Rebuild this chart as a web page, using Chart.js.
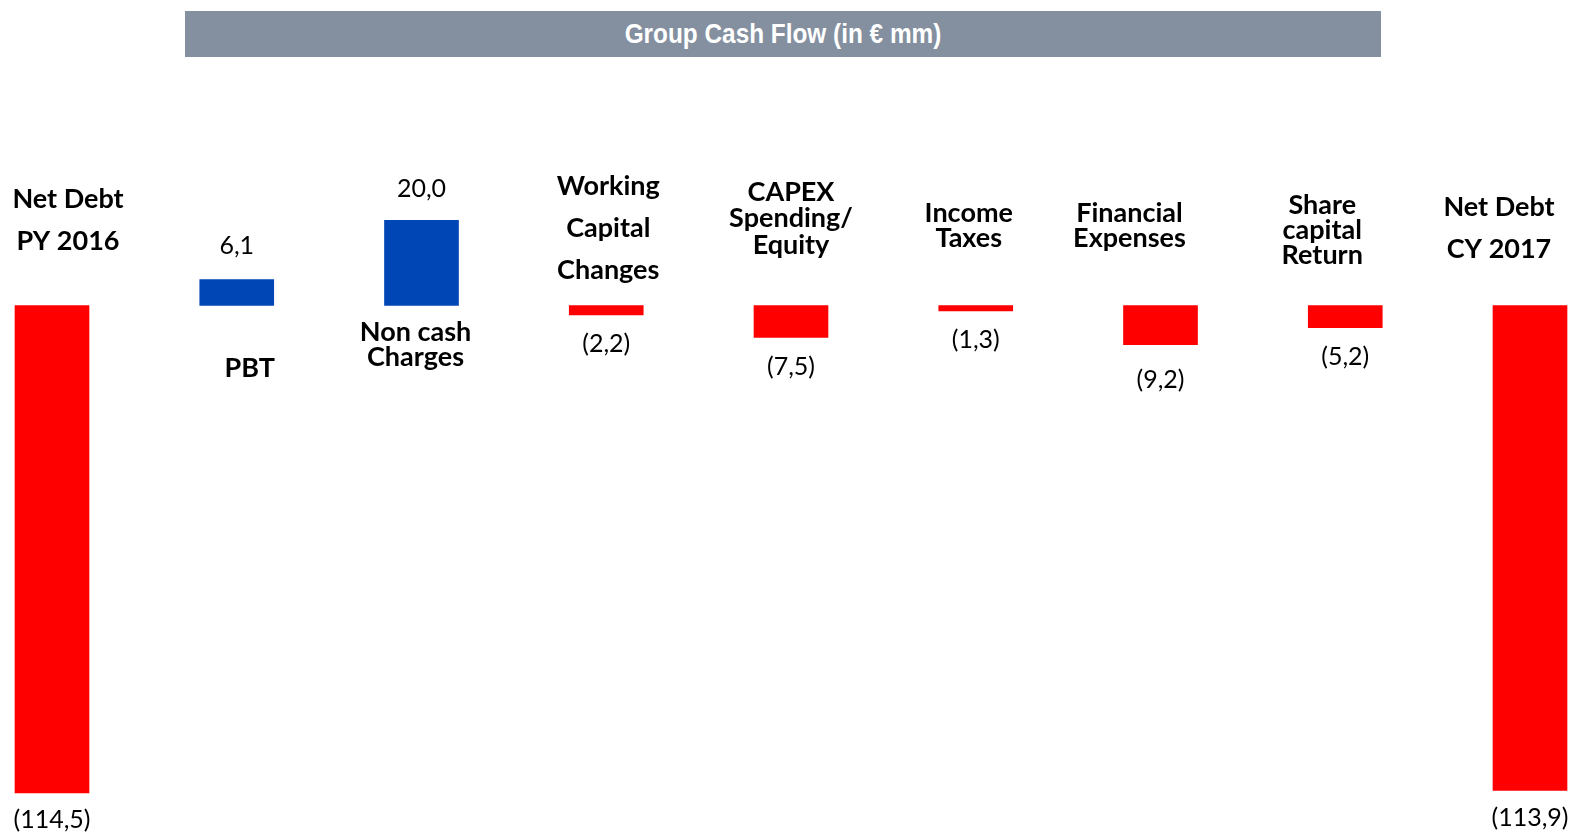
<!DOCTYPE html>
<html>
<head>
<meta charset="utf-8">
<script src="https://cdn.jsdelivr.net/npm/chart.js@4.4.1/dist/chart.umd.min.js"></script>
<style>
  html, body { margin: 0; padding: 0; background: #fff; }
  #wrap { position: relative; width: 1571px; height: 836px; }
  #title {
    position: absolute; left: 185px; top: 11px; width: 1196px; height: 46px;
    background: #848f9f; color: #fff; text-align: center;
    font: bold 28px "Liberation Sans", Arial, sans-serif;
    line-height: 46px; z-index: 2;
  }
  #title span { display: inline-block; transform: scaleX(0.87); }
  canvas { position: absolute; left: 0; top: 0; }
</style>
</head>
<body>
<div id="wrap">
  <div id="title"><span>Group Cash Flow (in € mm)</span></div>
  <canvas id="cashChart" width="1571" height="836"></canvas>
</div>
<script>
// ----------------------------
// - Data -
// ----------------------------
const categories = [
  ["Net Debt", "PY 2016"],
  ["PBT"],
  ["Non cash", "Charges"],
  ["Working", "Capital", "Changes"],
  ["CAPEX", "Spending/", "Equity"],
  ["Income", "Taxes"],
  ["Financial", "Expenses"],
  ["Share", "capital", "Return"],
  ["Net Debt", "CY 2017"]
];
const values = [-114.5, 6.1, 20.0, -2.2, -7.5, -1.3, -9.2, -5.2, -113.9];

// ----------------------------
// - Layout of the text labels -
// ----------------------------
// category text: x shift from bar centre, y of first line, gap between lines
const catLayout = [
  { dx: 16, y: 199, gap: 42 },
  { dx: 13, y: 368, gap: 26 },
  { dx: -6, y: 332, gap: 25 },
  { dx: 2, y: 186, gap: 42 },
  { dx: 0, y: 192, gap: 26.5 },
  { dx: -7, y: 213, gap: 25 },
  { dx: -31, y: 213, gap: 25 },
  { dx: -23, y: 205, gap: 25 },
  { dx: -31, y: 207, gap: 42 }
];
// value text: distance from the bar end
const valueGap = [27, 34, 31, 29, 30, 29, 35, 29, 27];

const barColors = values.map(function (v) {
  return v >= 0 ? "#0046b4" : "#ff0000";
});

function fmt(v) {
  var s = Math.abs(v).toFixed(1).replace(".", ",");
  return v < 0 ? "(" + s + ")" : s;
}

// draws the category names and the value labels
const labelPlugin = {
  id: "labelPlugin",
  afterDatasetsDraw: function (chart) {
    var ctx = chart.ctx;
    var meta = chart.getDatasetMeta(0);
    ctx.save();
    ctx.fillStyle = "#000";
    ctx.textAlign = "center";
    ctx.textBaseline = "middle";
    meta.data.forEach(function (bar, i) {
      var v = values[i];
      // value
      ctx.font = "25px Lato, sans-serif";
      var yv = v >= 0 ? bar.y - valueGap[i] : bar.y + valueGap[i];
      ctx.fillText(fmt(v), bar.x, yv);
      // category
      ctx.font = "bold 27px Lato, sans-serif";
      var lay = catLayout[i];
      categories[i].forEach(function (line, j) {
        ctx.fillText(line, bar.x + lay.dx, lay.y + j * lay.gap);
      });
    });
    ctx.restore();
  }
};

var ctx = document.getElementById("cashChart");

var cashChart = new Chart(ctx, {
  type: "bar",
  data: {
    labels: categories.map(function (c) { return c.join(" "); }),
    datasets: [{
      data: values,
      backgroundColor: barColors,
      borderWidth: 0,
      barThickness: 74,
      clip: false
    }]
  },
  options: {
    responsive: false,
    animation: false,
    layout: { padding: { left: 52, right: 41, top: 0, bottom: 0 } },
    plugins: {
      legend: { display: false },
      tooltip: { enabled: false }
    },
    scales: {
      x: {
        display: false,
        offset: false,
        grid: { display: false }
      },
      y: {
        display: false,
        min: -124.6,
        max: 71.75,
        grid: { display: false }
      }
    }
  },
  plugins: [labelPlugin]
});
</script>
</body>
</html>
